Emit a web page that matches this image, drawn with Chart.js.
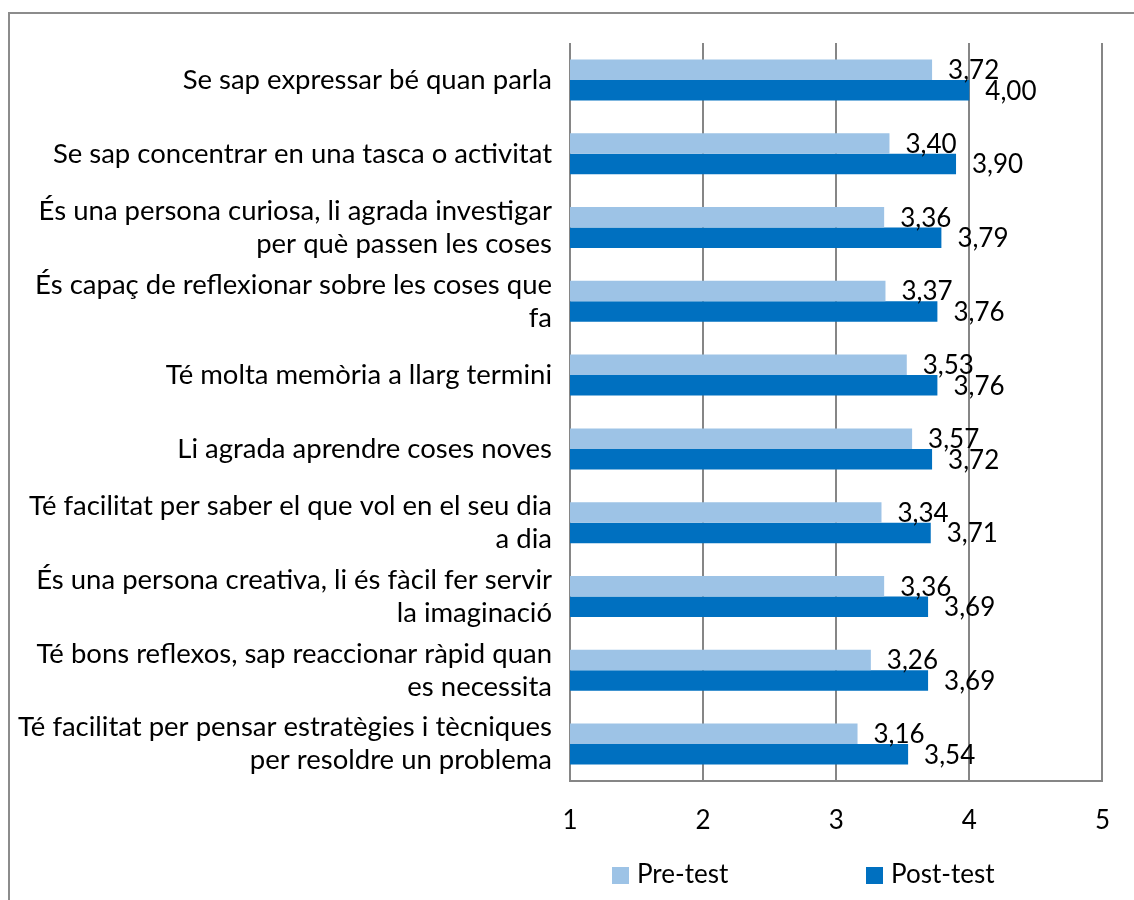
<!DOCTYPE html>
<html>
<head>
<meta charset="utf-8">
<script src="https://cdn.jsdelivr.net/npm/chart.js@4"></script>
<style>
  body { margin: 0; background: #fff; }
  #frame { position: absolute; left: 8px; top: 12px; width: 1200px; height: 1000px; border: 2px solid #8c8c8c; }
  #wrap { position: absolute; left: 0; top: 0; width: 1134px; height: 900px; }
</style>
</head>
<body>
<div id="frame"></div>
<div id="wrap"><canvas id="chart" width="1134" height="900"></canvas></div>
<script>
const categories = [
  'Se sap expressar bé quan parla',
  'Se sap concentrar en una tasca o activitat',
  ['És una persona curiosa, li agrada investigar', 'per què passen les coses'],
  ['És capaç de reflexionar sobre les coses que', 'fa'],
  'Té molta memòria a llarg termini',
  'Li agrada aprendre coses noves',
  ['Té facilitat per saber el que vol en el seu dia', 'a dia'],
  ['És una persona creativa, li és fàcil fer servir', 'la imaginació'],
  ['Té bons reflexos, sap reaccionar ràpid quan', 'es necessita'],
  ['Té facilitat per pensar estratègies i tècniques', 'per resoldre un problema']
]
const preTest = [3.72, 3.40, 3.36, 3.37, 3.53, 3.57, 3.34, 3.36, 3.26, 3.16]
const postTest = [4.00, 3.90, 3.79, 3.76, 3.76, 3.72, 3.71, 3.69, 3.69, 3.54]
const seriesNames = ['Pre-test', 'Post-test']
const seriesColors = ['#9DC3E6', '#0070C0']
const xMin = 1
const xMax = 5

const FONT = 'Lato'
const gridColor = '#868686'

// value labels next to each bar, comma decimals
const valueLabels = {
  id: 'valueLabels',
  afterDatasetsDraw(chart) {
    const ctx = chart.ctx
    ctx.save()
    ctx.font = '26px ' + FONT
    ctx.fillStyle = '#000'
    ctx.textBaseline = 'middle'
    ctx.textAlign = 'left'
    chart.data.datasets.forEach((ds, i) => {
      chart.getDatasetMeta(i).data.forEach((bar, j) => {
        ctx.fillText(ds.data[j].toFixed(2).replace('.', ','), bar.x + 16, bar.y + 1)
      })
    })
    ctx.restore()
  }
}

// legend at the bottom, spaced like the original
const bottomLegend = {
  id: 'bottomLegend',
  afterDraw(chart) {
    const ctx = chart.ctx
    const xs = [612, 866]
    const y = 875
    ctx.save()
    ctx.font = '26px ' + FONT
    ctx.textBaseline = 'middle'
    chart.data.datasets.forEach((ds, i) => {
      ctx.fillStyle = ds.backgroundColor
      ctx.fillRect(xs[i], y - 8, 17, 17)
      ctx.fillStyle = '#000'
      ctx.fillText(ds.label, xs[i] + 25, y)
    })
    ctx.restore()
  }
}

new Chart('chart', {
  type: 'bar',
  data: {
    labels: categories,
    datasets: [
      { label: seriesNames[0], data: preTest, backgroundColor: seriesColors[0] },
      { label: seriesNames[1], data: postTest, backgroundColor: seriesColors[1] }
    ]
  },
  options: {
    indexAxis: 'y',
    responsive: false,
    animation: false,
    categoryPercentage: 0.556,
    barPercentage: 1,
    layout: { padding: { top: 32, right: 30, bottom: 0, left: 0 } },
    plugins: {
      legend: { display: false },
      tooltip: { enabled: false }
    },
    scales: {
      x: {
        min: xMin,
        max: xMax,
        ticks: { stepSize: 1, color: '#000', padding: 24, font: { family: FONT, size: 26 } },
        grid: { color: gridColor, lineWidth: 2, drawTicks: false },
        border: { color: gridColor, width: 2 },
        afterFit(scale) { scale.height = 119 }
      },
      y: {
        ticks: { color: '#000', padding: 10, font: { family: FONT, size: 27.5, lineHeight: 1.2 } },
        grid: { display: false },
        border: { display: false },
        afterFit(scale) { scale.width = 570 }
      }
    }
  },
  plugins: [valueLabels, bottomLegend]
})
</script>
</body>
</html>
